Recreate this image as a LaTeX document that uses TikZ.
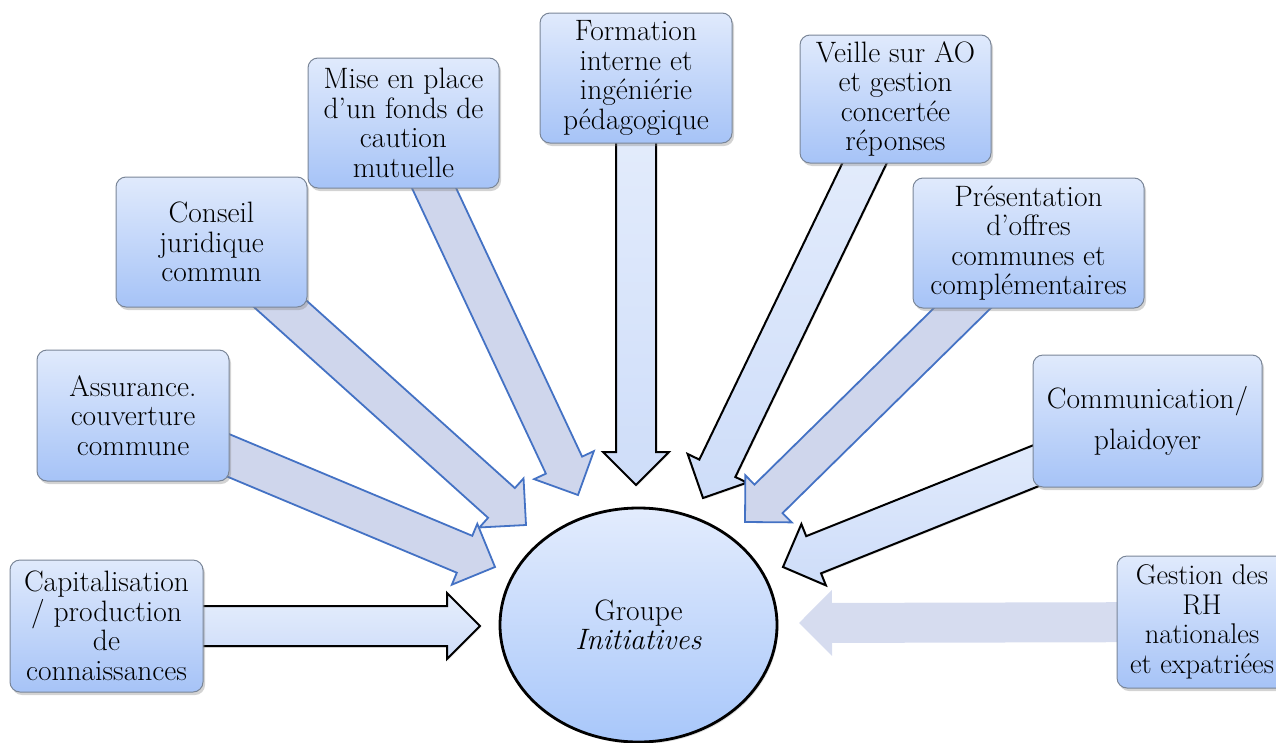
\documentclass[tikz,border=0pt]{standalone}
\usepackage{fontspec}
\usetikzlibrary{calc,shadows,backgrounds,shapes.geometric}
\definecolor{boxtop}{HTML}{E0EAFC}
\definecolor{boxbot}{HTML}{A6C3F7}
\definecolor{boxline}{HTML}{7A8698}
\definecolor{arrblue}{HTML}{4472C4}
\definecolor{arrlav}{HTML}{CFD6EC}
\definecolor{arrlighttop}{HTML}{E6EEFC}
\definecolor{arrlightbot}{HTML}{CEDDF9}
\definecolor{arrpale}{HTML}{D6DCEF}
\definecolor{elltop}{HTML}{E3ECFD}
\definecolor{ellbot}{HTML}{A8C7FA}
\newcommand\myfatarrow[3]{%
  \coordinate (ah) at ($(#3)!33pt!(#2)$);
  \path[#1] ($(#2)!20pt!90:(#3)$) -- ($(ah)!20pt!90:(#3)$) -- ($(ah)!33pt!90:(#3)$)
    -- (#3) -- ($(ah)!33pt!-90:(#3)$) -- ($(ah)!20pt!-90:(#3)$) -- ($(#2)!20pt!-90:(#3)$) -- cycle;
}
\begin{document}
\begin{tikzpicture}[x=1pt,y=-1pt,
  topic/.style={rounded corners=10pt, draw=boxline, line width=1pt,
    top color=boxtop, bottom color=boxbot, align=center, inner sep=0pt,
    minimum width=192pt, minimum height=130pt,
    font=\fontsize{29.5}{29.5}\selectfont,
    drop shadow={shadow xshift=2pt, shadow yshift=-3pt, opacity=0.35}},
  blackarr/.style={draw=black, line width=2pt, line join=miter,
    top color=arrlighttop, bottom color=arrlightbot,
    drop shadow={shadow xshift=1pt, shadow yshift=-1.5pt, opacity=0.2}},
  bluearr/.style={draw=arrblue, line width=1.8pt, line join=miter, fill=arrlav},
  palearr/.style={fill=arrpale},
  hub/.style={ellipse, draw=black, line width=2.8pt, top color=elltop, bottom color=ellbot,
    minimum width=277pt, minimum height=234pt, align=center, inner sep=0pt,
    font=\fontsize{29.5}{29}\selectfont,
    drop shadow={shadow xshift=1.5pt, shadow yshift=-2pt, opacity=0.25}}
]
\useasboundingbox (0,0) rectangle (1276,742);

% boxes
\node[topic, minimum width=193pt, minimum height=132pt] (b1) at (106.5,626)
  {Capitalisation\\ / production\\ de\\ connaissances};
\node[topic, minimum height=131pt] (b2) at (133,415.5) {Assurance.\\ couverture\\ commune};
\node[topic, minimum width=191pt] (b3) at (211.5,242) {Conseil\\ juridique\\ commun};
\node[topic, minimum width=191pt] (b4) at (403.5,123) {Mise en place\\ d'un fonds de\\ caution\\ mutuelle};
\node[topic] (b5) at (636,78) {Formation\\ interne et\\ ingéniérie\\ pédagogique};
\node[topic, minimum width=191pt, minimum height=128pt] (b6) at (895.5,99) {Veille sur AO\\ et gestion\\ concertée\\ réponses};
\node[topic, minimum width=231pt] (b7) at (1028.5,243) {Présentation\\ d'offres\\ communes et\\ complémentaires};
\node[topic, minimum width=229pt, minimum height=132pt] (b8) at (1147.5,421) {Communication/\\[11pt] plaidoyer};
\node[topic, minimum width=170pt, minimum height=132pt, font=\fontsize{28.5}{29.5}\selectfont] (b9) at (1202,622) {Gestion des\\ RH\\ nationales\\ et expatriées};

% hub
\node[hub] (g) at (638.5,625) {Groupe\\ \textit{Initiatives}};

% arrow tips
\coordinate (t1) at (480,626);
\coordinate (t2) at (495,567);
\coordinate (t3) at (526,525);
\coordinate (t4) at (578,495);
\coordinate (t5) at (636,485);
\coordinate (t6) at (703,498);
\coordinate (t7) at (745,522);
\coordinate (t8) at (783,567);
\coordinate (t9) at (799,623);

\begin{scope}[on background layer]
  \myfatarrow{palearr}{b9.center}{t9}
  \myfatarrow{blackarr}{b1.center}{t1}
  \myfatarrow{bluearr}{b3.center}{t3}
  \myfatarrow{bluearr}{b2.center}{t2}
  \myfatarrow{bluearr}{b4.center}{t4}
  \myfatarrow{blackarr}{b5.center}{t5}
  \myfatarrow{blackarr}{b6.center}{t6}
  \myfatarrow{bluearr}{b7.center}{t7}
  \myfatarrow{blackarr}{b8.center}{t8}
\end{scope}
\end{tikzpicture}
\end{document}
